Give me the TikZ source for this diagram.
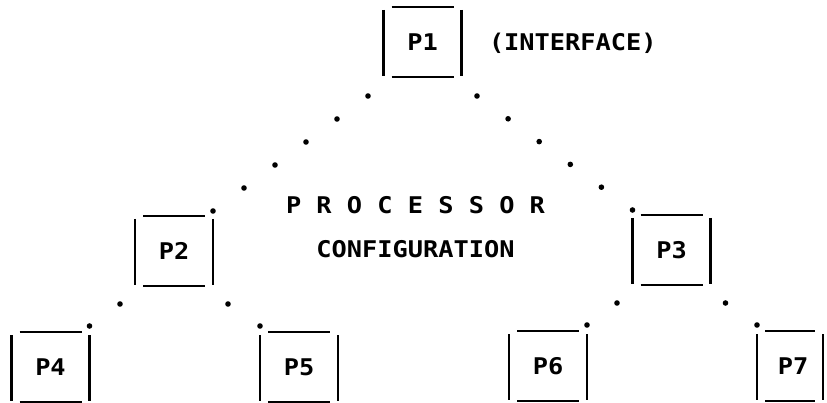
\documentclass[tikz,border=0pt]{standalone}
\usepackage{fontspec}
\newfontfamily\printfont{DejaVu Sans Mono}[FakeStretch=1.1]
\usetikzlibrary{calc}
\tikzset{
  printtext/.style={font=\printfont\bfseries\fontsize{23pt}{25pt}\selectfont, inner sep=0pt, outer sep=0pt},
  procbox/.style={printtext, minimum width=78pt, minimum height=70pt},
  boxline/.style={line width=2.8pt},
  dotmark/.style={fill=black},
}
\newcommand\boxsides[1]{%
  \draw[boxline] ([xshift=8pt]#1.north west) -- ([xshift=-8pt]#1.north east);
  \draw[boxline] ([xshift=8pt]#1.south west) -- ([xshift=-8pt]#1.south east);
  \draw[boxline] ([yshift=-3pt]#1.north west) -- ([yshift=1pt]#1.south west);
  \draw[boxline] ([yshift=-3pt]#1.north east) -- ([yshift=1pt]#1.south east);
}
\newcommand\dotchain[3]{%
  \foreach \k in {0,...,#3} {\fill[dotmark] ($(#1)!\k/#3!(#2)$) circle (2.8pt);}
}
\begin{document}
\begin{tikzpicture}[x=1pt,y=-1pt]
  \fill[white] (0,0) rectangle (827,403);
  \useasboundingbox (0,0) rectangle (827,403);

  % processor boxes
  \node[procbox] (p1) at (422.5,42) {P1};
  \node[procbox] (p2) at (174,251) {P2};
  \node[procbox] (p3) at (671.5,250) {P3};
  \node[procbox] (p4) at (50.5,367) {P4};
  \node[procbox] (p5) at (299,367) {P5};
  \node[procbox] (p6) at (548,366) {P6};
  \node[procbox, minimum width=66pt, text depth=0pt] (p7) at (790,366) {\hspace*{6pt}P7};
  \foreach \b in {p1,p2,p3,p4,p5,p6,p7} {\boxsides{\b}}

  % labels
  \node[printtext, anchor=base west] (iface) at (489,51) {(INTERFACE)};
  \node[printtext, anchor=base] (proc) at (415.5,214) {P R O C E S S O R};
  \node[printtext, anchor=base] (conf) at (415.5,258) {CONFIGURATION};

  % dotted connectors
  \coordinate (a12) at ($(p1.south west)+(-15.5,19)$);
  \coordinate (b12) at ($(p2.north east)+(0,-5)$);
  \coordinate (a13) at ($(p1.south east)+(15.5,19)$);
  \coordinate (b13) at ($(p3.north west)+(0,-5)$);
  \coordinate (a24) at ($(p2.south west)+(-15,18)$);
  \coordinate (b24) at ($(p4.north east)+(0,-6)$);
  \coordinate (a25) at ($(p2.south east)+(15,18)$);
  \coordinate (b25) at ($(p5.north west)+(0,-6)$);
  \coordinate (a36) at ($(p3.south west)+(-15.5,18)$);
  \coordinate (b36) at ($(p6.north east)+(0,-6)$);
  \coordinate (a37) at ($(p3.south east)+(15,18)$);
  \coordinate (b37) at ($(p7.north west)+(0,-6)$);
  \dotchain{a12}{b12}{5}
  \dotchain{a13}{b13}{5}
  \dotchain{a24}{b24}{1}
  \dotchain{a25}{b25}{1}
  \dotchain{a36}{b36}{1}
  \dotchain{a37}{b37}{1}
\end{tikzpicture}
\end{document}
